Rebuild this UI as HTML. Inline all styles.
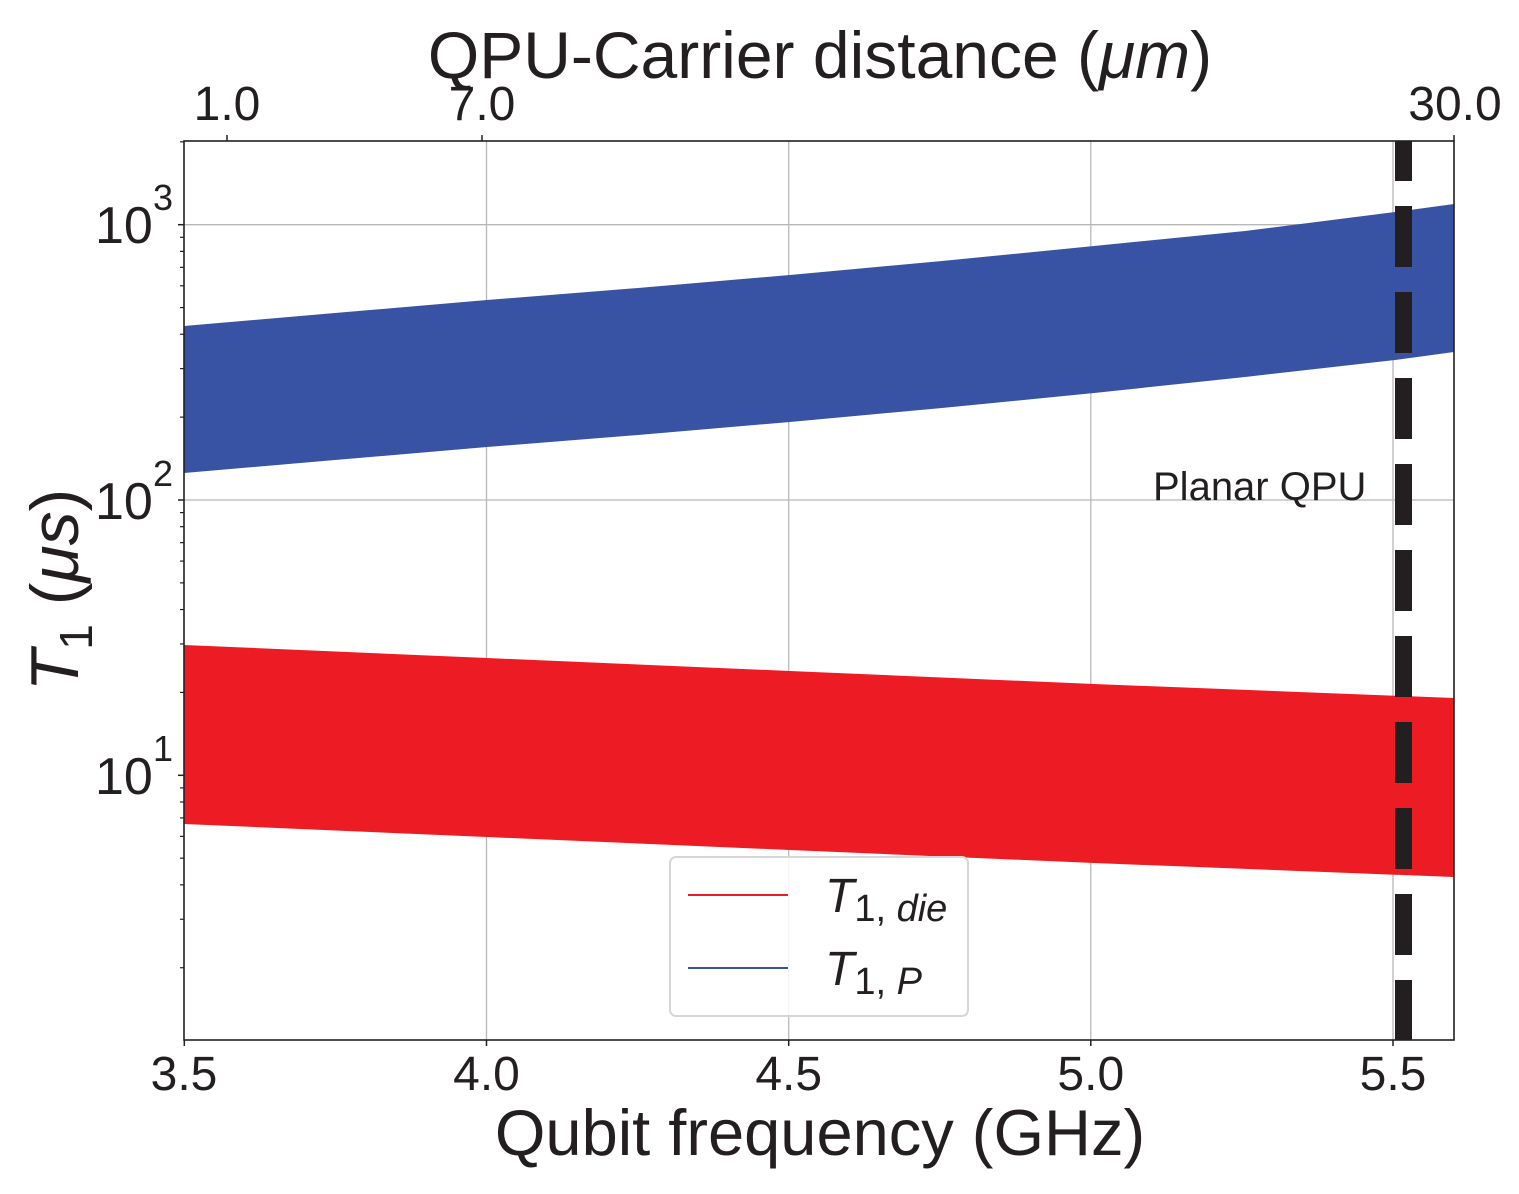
<!DOCTYPE html>
<html><head><meta charset="utf-8"><style>
html,body{margin:0;padding:0;background:#fff}
svg{display:block}
text{font-family:"Liberation Sans",Arial,sans-serif;fill:#231f20}
</style></head><body>
<svg width="1519" height="1194" viewBox="0 0 1519 1194" xmlns="http://www.w3.org/2000/svg">
<rect width="1519" height="1194" fill="#fff"/>
<g stroke="#b8b8b8" stroke-width="1.3">
<line x1="486.5" y1="141" x2="486.5" y2="1040"/>
<line x1="788.7" y1="141" x2="788.7" y2="1040"/>
<line x1="1090.8" y1="141" x2="1090.8" y2="1040"/>
<line x1="1393" y1="141" x2="1393" y2="1040"/>
<line x1="184" y1="224.7" x2="1454" y2="224.7"/>
<line x1="184" y1="500" x2="1454" y2="500"/>
<line x1="184" y1="775.3" x2="1454" y2="775.3"/>
</g>
<polygon fill="#3853a3" points="184,326 335,313 487,300 638,288 790,275 942,261 1094,246 1245,231 1395,212 1454,204 1454,352 1395,360 1245,377 1094,393 942,408 790,422 638,435 487,447 335,460 184,473"/>
<polygon fill="#ed1c24" points="184,645 487,658 790,671 1094,684 1454,698 1454,877 1094,863 790,850 487,837 184,824"/>
<line x1="1403.5" y1="141" x2="1403.5" y2="1040" stroke="#231f20" stroke-width="17" stroke-dasharray="40 25 61 25 61 25 61 25 61 25 61 25 61 25 61 25 61 25 61 25 61 25 61 25 61 25"/>
<rect x="184" y="141" width="1270" height="899" fill="none" stroke="#231f20" stroke-width="1.6"/>
<g stroke="#231f20" stroke-width="1.5">
<line x1="178" y1="224.7" x2="184" y2="224.7"/>
<line x1="178" y1="500" x2="184" y2="500"/>
<line x1="178" y1="775.3" x2="184" y2="775.3"/>
</g>
<g stroke="#231f20" stroke-width="1.2" id="minor"></g>
<g stroke="#231f20" stroke-width="1.5">
<line x1="184.3" y1="1040" x2="184.3" y2="1046"/>
<line x1="486.5" y1="1040" x2="486.5" y2="1046"/>
<line x1="788.7" y1="1040" x2="788.7" y2="1046"/>
<line x1="1090.8" y1="1040" x2="1090.8" y2="1046"/>
<line x1="1393" y1="1040" x2="1393" y2="1046"/>
<line x1="227" y1="135" x2="227" y2="141"/>
<line x1="482" y1="135" x2="482" y2="141"/>
<line x1="1454" y1="135" x2="1454" y2="141"/>
</g>
<g font-size="48" text-anchor="middle">
<text x="184" y="1090">3.5</text>
<text x="486.5" y="1090">4.0</text>
<text x="788.7" y="1090">4.5</text>
<text x="1090.8" y="1090">5.0</text>
<text x="1393" y="1090">5.5</text>
<text x="227" y="120">1.0</text>
<text x="482" y="120">7.0</text>
<text x="1455" y="120">30.0</text>
</g>
<g font-size="52">
<text x="95" y="243">10</text><text x="153" y="210" font-size="36">3</text>
<text x="95" y="519">10</text><text x="153" y="486" font-size="36">2</text>
<text x="95" y="794">10</text><text x="153" y="761" font-size="36">1</text>
</g>
<text x="820" y="78" font-size="66" text-anchor="middle">QPU-Carrier distance (<tspan font-style="italic">μm</tspan>)</text>
<text x="820" y="1155" font-size="65" text-anchor="middle">Qubit frequency (GHz)</text>
<text transform="translate(78,590) rotate(-90)" font-size="68" text-anchor="middle"><tspan font-style="italic">T</tspan><tspan font-size="46" dy="14">1</tspan><tspan dy="-14"> (</tspan><tspan font-style="italic">μs</tspan>)</text>
<text x="1153" y="500" font-size="40">Planar QPU</text>
<rect x="670" y="857" width="298" height="159" rx="6" fill="#fff" fill-opacity="0.85" stroke="#d6d6d6" stroke-width="2"/>
<line x1="688" y1="895" x2="788" y2="895" stroke="#ed1c24" stroke-width="2"/>
<line x1="688" y1="968" x2="788" y2="968" stroke="#3853a3" stroke-width="2"/>
<text x="825" y="912" font-size="48"><tspan font-style="italic">T</tspan><tspan font-size="38" dy="9">1,</tspan><tspan font-size="38" font-style="italic"> die</tspan></text>
<text x="825" y="985" font-size="48"><tspan font-style="italic">T</tspan><tspan font-size="38" dy="9">1,</tspan><tspan font-size="38" font-style="italic"> P</tspan></text>
</svg>
<script>
(function(){
var g=document.getElementById('minor');var ns="http://www.w3.org/2000/svg";
var y0=775.3,d=275.3;
function Y(v){return y0-(Math.log10(v)-1)*d;}
[1,10,100,1000].forEach(function(b){for(var k=2;k<=9;k++){var y=Y(b*k);if(y>141&&y<1040){var l=document.createElementNS(ns,'line');l.setAttribute('x1',180);l.setAttribute('x2',184);l.setAttribute('y1',y);l.setAttribute('y2',y);g.appendChild(l);}}});
})();
</script>
</body></html>
